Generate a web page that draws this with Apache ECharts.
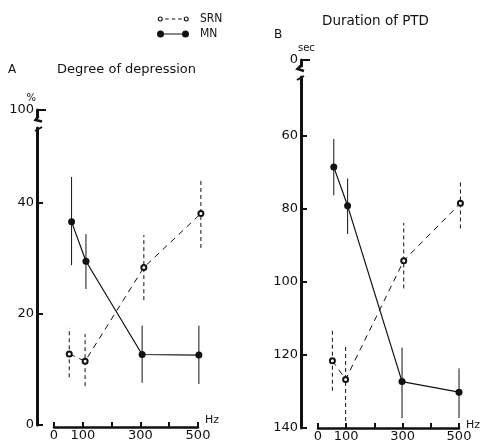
<!DOCTYPE html>
<html><head><meta charset="utf-8">
<script src="https://cdn.jsdelivr.net/npm/echarts@6/dist/echarts.min.js"></script>
<style>html,body{margin:0;padding:0;background:#fff}#c{width:480px;height:443px}</style>
</head><body><div id="c"></div>
<script>
// ---- data ----
const xTicks = [0, 100, 200, 300, 400, 500];
const xLabelValues = [0, 100, 300, 500];
const yTicksA = [0, 20, 40];
const yTopA = [100];
const yTicksB = [60, 80, 100, 120, 140];
const yTopB = [0];

// Panel A: Degree of depression (%)
const freqA_MN = [61, 111, 306, 503];
const valA_MN = [36.6, 29.5, 12.7, 12.6];
const hiA_MN = [44.7, 34.4, 17.9, 17.9];
const loA_MN = [28.8, 24.5, 7.6, 7.4];
const freqA_SRN = [53, 108, 312, 510];
const valA_SRN = [12.8, 11.5, 28.4, 38.1];
const hiA_SRN = [17.5, 16.4, 34.2, 44.5];
const loA_SRN = [8.6, 7.0, 22.5, 31.9];

// Panel B: Duration of PTD (sec)
const freqB_MN = [56, 105, 298, 500];
const valB_MN = [68.6, 79.2, 127.3, 130.2];
const hiB_MN = [60.9, 71.7, 118, 123.7];
const loB_MN = [76.3, 86.9, 137.3, 137.3];
const freqB_SRN = [51, 98, 304, 505];
const valB_SRN = [121.6, 126.7, 94.2, 78.5];
const hiB_SRN = [113.4, 117.3, 83.9, 72];
const loB_SRN = [129.8, 140, 101.8, 85.4];

const FONT = 'DejaVu Sans';
const FONT_C = 'DejaVu Sans Condensed';
const INK = '#111';

function zip2(a, b) { return a.map((v, i) => [v, b[i]]); }
function zip3(a, b, c) { return a.map((v, i) => [v, b[i], c[i]]); }

function errRender(dashed) {
  return function (params, api) {
    const x = api.value(0), lo = api.value(1), hi = api.value(2);
    const p1 = api.coord([x, lo]), p2 = api.coord([x, hi]);
    return {
      type: 'line',
      shape: { x1: p1[0], y1: p1[1], x2: p2[0], y2: p2[1] },
      style: { stroke: INK, lineWidth: 1, lineDash: dashed ? [4, 3] : null }
    };
  };
}

function xAxisCfg(gi, offset) {
  return {
    gridIndex: gi, type: 'value', min: 0, max: 500, interval: 100, offset: offset, position: 'bottom',
    axisLine: { show: true, onZero: false, lineStyle: { color: INK, width: 2.5 } },
    axisTick: { show: true, inside: true, length: 5, lineStyle: { color: INK, width: 2 } },
    axisLabel: { color: INK, fontFamily: FONT, fontSize: 13, margin: 2, customValues: xLabelValues },
    splitLine: { show: false }
  };
}
function hiddenX(gi) {
  return { gridIndex: gi, type: 'value', min: 0, max: 500, show: false };
}

function yAxisCfg(gi, o) {
  const base = {
    gridIndex: gi, type: 'value', offset: 17,
    axisLine: { show: true, onZero: false, lineStyle: { color: INK, width: 3 } },
    axisTick: { show: true, inside: true, length: 6, lineStyle: { color: INK, width: 2 } },
    axisLabel: { color: INK, fontFamily: FONT, fontSize: 13, margin: 3 },
    splitLine: { show: false }
  };
  const r = Object.assign(base, o);
  r.axisTick = Object.assign({}, base.axisTick, { customValues: o.ticks, length: o.tickLen || 6 });
  r.axisLabel = Object.assign({}, base.axisLabel, { customValues: o.ticks });
  delete r.ticks; delete r.tickLen;
  return r;
}

// legend icons: symbols at both ends of the line (dummy corner points keep the box)
const ICON_MN = 'path://M0,0 L0.01,0 Z M0,7 L0.01,7 Z ' +
  'M0,3.5 A3.5,3.5 0 1,1 7,3.5 A3.5,3.5 0 1,1 0,3.5 Z ' +
  'M25,3.5 A3.5,3.5 0 1,1 32,3.5 A3.5,3.5 0 1,1 25,3.5 Z ' +
  'M3.5,3 L28.5,3 L28.5,4 L3.5,4 Z';
const ICON_SRN = 'path://M0,0 L0.01,0 Z M0,7 L0.01,7 Z ' +
  'M0.5,3.5 A2.5,2.5 0 1,1 5.5,3.5 A2.5,2.5 0 1,1 0.5,3.5 Z M1.6,3.5 A1.4,1.4 0 1,0 4.4,3.5 A1.4,1.4 0 1,0 1.6,3.5 Z ' +
  'M26.5,3.5 A2.5,2.5 0 1,1 31.5,3.5 A2.5,2.5 0 1,1 26.5,3.5 Z M27.6,3.5 A1.4,1.4 0 1,0 30.4,3.5 A1.4,1.4 0 1,0 27.6,3.5 Z ' +
  'M8,3 L11.5,3 L11.5,4 L8,4 Z M14.5,3 L18,3 L18,4 L14.5,4 Z M21,3 L24.5,3 L24.5,4 L21,4 Z';

const chart = echarts.init(document.getElementById('c'), null, { renderer: 'canvas' });
chart.setOption({
  backgroundColor: '#fff',
  animation: false,
  textStyle: { fontFamily: FONT },
  legend: {
    orient: 'vertical', left: 152, top: 8, itemWidth: 44, itemHeight: 7, itemGap: 3,
    textStyle: { color: INK, fontFamily: FONT_C, fontSize: 12 },
    data: [
      { name: 'SRN', icon: ICON_SRN, itemStyle: { color: INK, borderWidth: 0 } },
      { name: 'MN', icon: ICON_MN, itemStyle: { color: INK, borderWidth: 0 } }
    ]
  },
  grid: [
    { left: 54, top: 128, width: 144, height: 297 },   // A main
    { left: 318, top: 77, width: 141, height: 353 },   // B main
    { left: 54, top: 110, width: 144, height: 7 },     // A top segment (100)
    { left: 318, top: 60, width: 141, height: 6 }      // B top segment (0)
  ],
  xAxis: [xAxisCfg(0, 2), xAxisCfg(1, 0), hiddenX(2), hiddenX(3)],
  yAxis: [
    yAxisCfg(0, { min: 0, max: 297 / 5.55, ticks: yTicksA }),
    yAxisCfg(1, { min: 60 - 59 / 3.675, max: 140, inverse: true, ticks: yTicksB }),
    yAxisCfg(2, { min: 100 - 7 / 5.55, max: 100, ticks: yTopA, tickLen: 9, name: '%', nameLocation: 'end', nameGap: 1,
      nameTextStyle: { color: INK, fontFamily: FONT, fontSize: 10, align: 'right', padding: [0, 1, 0, 0] } }),
    yAxisCfg(3, { min: 0, max: 6 / 3.675, inverse: true, ticks: yTopB, tickLen: 9, name: 'sec', nameLocation: 'start', nameGap: 0,
      nameTextStyle: { color: INK, fontFamily: FONT, fontSize: 10, align: 'left', padding: [0, 0, 0, -3] } })
  ],
  graphic: [
    { type: 'text', left: 8, top: 64, style: { text: 'A', fontFamily: FONT, fontSize: 12, fill: INK } },
    { type: 'text', left: 57, top: 63, style: { text: 'Degree of depression', fontFamily: FONT, fontSize: 13, fill: INK } },
    { type: 'text', left: 274, top: 29, style: { text: 'B', fontFamily: FONT, fontSize: 12, fill: INK } },
    { type: 'text', left: 322, top: 14, style: { text: 'Duration of PTD', fontFamily: FONT, fontSize: 13.5, fill: INK } },
    // axis unit names at the x-axis ends
    { type: 'text', left: 205, top: 415, style: { text: 'Hz', fontFamily: FONT, fontSize: 11, fill: INK } },
    { type: 'text', left: 466, top: 420, style: { text: 'Hz', fontFamily: FONT, fontSize: 11, fill: INK } },
    // axis break marks
    { type: 'polyline', shape: { points: [[38.5, 116], [35.5, 120], [42, 121.5]] }, style: { stroke: INK, lineWidth: 2.5, fill: null } },
    { type: 'line', shape: { x1: 35, y1: 131, x2: 42, y2: 127 }, style: { stroke: INK, lineWidth: 2 } },
    { type: 'polyline', shape: { points: [[301.5, 65], [297.5, 69], [304, 71]] }, style: { stroke: INK, lineWidth: 2.5, fill: null } },
    { type: 'line', shape: { x1: 297, y1: 80, x2: 304, y2: 76 }, style: { stroke: INK, lineWidth: 2 } }
  ],
  series: [
    { name: 'SRN', type: 'line', xAxisIndex: 0, yAxisIndex: 0, data: zip2(freqA_SRN, valA_SRN), clip: false,
      symbol: 'emptyCircle', symbolSize: 5, itemStyle: { color: INK, borderWidth: 1 },
      lineStyle: { color: INK, width: 1, type: [6, 5] }, z: 3 },
    { name: 'MN', type: 'line', xAxisIndex: 0, yAxisIndex: 0, data: zip2(freqA_MN, valA_MN), clip: false,
      symbol: 'circle', symbolSize: 7, itemStyle: { color: INK },
      lineStyle: { color: INK, width: 1.2 }, z: 3 },
    { type: 'custom', xAxisIndex: 0, yAxisIndex: 0, data: zip3(freqA_SRN, loA_SRN, hiA_SRN), renderItem: errRender(true), clip: false, z: 2 },
    { type: 'custom', xAxisIndex: 0, yAxisIndex: 0, data: zip3(freqA_MN, loA_MN, hiA_MN), renderItem: errRender(false), clip: false, z: 2 },
    { name: 'SRN', type: 'line', xAxisIndex: 1, yAxisIndex: 1, data: zip2(freqB_SRN, valB_SRN), clip: false,
      symbol: 'emptyCircle', symbolSize: 5, itemStyle: { color: INK, borderWidth: 1 },
      lineStyle: { color: INK, width: 1, type: [6, 5] }, z: 3 },
    { name: 'MN', type: 'line', xAxisIndex: 1, yAxisIndex: 1, data: zip2(freqB_MN, valB_MN), clip: false,
      symbol: 'circle', symbolSize: 7, itemStyle: { color: INK },
      lineStyle: { color: INK, width: 1.2 }, z: 3 },
    { type: 'custom', xAxisIndex: 1, yAxisIndex: 1, data: zip3(freqB_SRN, loB_SRN, hiB_SRN), renderItem: errRender(true), clip: false, z: 2 },
    { type: 'custom', xAxisIndex: 1, yAxisIndex: 1, data: zip3(freqB_MN, loB_MN, hiB_MN), renderItem: errRender(false), clip: false, z: 2 }
  ]
});
</script>
</body></html>
